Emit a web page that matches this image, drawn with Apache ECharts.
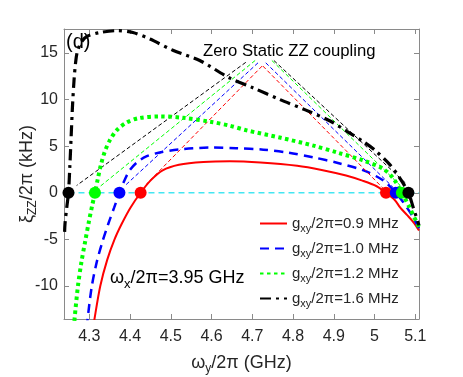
<!DOCTYPE html>
<html>
<head>
<meta charset="utf-8">
<script src="https://cdn.jsdelivr.net/npm/echarts@6/dist/echarts.min.js"></script>
<style>
  html, body { margin: 0; padding: 0; background: #fff; }
  #chart { width: 463px; height: 377px; }
</style>
</head>
<body>
<div id="chart"></div>
<script>
// g_xy values (MHz) and colours, order: red, blue, green, black
const gValues = ['0.9', '1.0', '1.2', '1.6'];

// curves
const redX   = [4.310, 4.313, 4.327, 4.344, 4.362, 4.380, 4.401, 4.426, 4.450, 4.480, 4.520, 4.580, 4.645, 4.720, 4.810, 4.870, 4.930, 4.970, 5.005, 5.028, 5.050, 5.063, 5.080, 5.096, 5.109];
const redY   = [-14.5, -13.5, -10.0, -7.2, -5.0, -3.3, -1.6, 0, 1.3, 2.4, 3.0, 3.3, 3.38, 3.25, 2.9, 2.45, 1.85, 1.3, 0.7, 0, -0.8, -1.6, -2.4, -3.2, -4.05];

const blueX  = [4.294, 4.296, 4.306, 4.318, 4.332, 4.347, 4.361, 4.374, 4.386, 4.399, 4.418, 4.440, 4.470, 4.520, 4.600, 4.660, 4.727, 4.790, 4.850, 4.910, 4.973, 5.022, 5.052, 5.070, 5.090, 5.109];
const blueY  = [-14.5, -13.5, -10.1, -7.5, -5.3, -3.3, -1.6, 0, 1.3, 2.4, 3.3, 3.9, 4.3, 4.65, 4.85, 4.78, 4.63, 4.3, 3.8, 3.2, 2.4, 1.3, 0, -1.0, -2.3, -3.8];

const greenX = [4.2625, 4.2640, 4.2720, 4.2805, 4.2905, 4.2995, 4.3070, 4.3140, 4.3210, 4.3285, 4.3380, 4.3500, 4.3670, 4.3900, 4.4200, 4.4730, 4.5300, 4.6000, 4.6450, 4.6860, 4.7700, 4.8500, 4.9100, 4.9730, 5.0200, 5.0450, 5.0670, 5.0850, 5.1090];
const greenY = [-14.5, -13.5, -10.1, -7.5, -5.1, -3.0, -1.4, 0, 1.5, 3.0, 4.4, 5.6, 6.7, 7.5, 8.0, 8.2, 8.05, 7.6, 7.2, 6.7, 5.9, 5.06, 4.3, 3.46, 2.6, 1.6, 0, -1.5, -3.7];

const blackX = [4.2395, 4.2405, 4.2450, 4.2490, 4.2525, 4.2555, 4.2585, 4.2625, 4.2665, 4.2710, 4.2810, 4.2950, 4.3260, 4.3670, 4.4070, 4.4490, 4.5050, 4.5710, 4.6450, 4.7000, 4.7680, 4.8300, 4.8910, 4.9320, 4.9720, 5.0000, 5.0380, 5.0600, 5.0830, 5.0950, 5.1090];
const blackY = [-4.2, -3.3, -1.5, 0, 3.0, 6.0, 9.0, 12.0, 14.0, 15.2, 16.2, 16.8, 17.2, 17.4, 17.2, 16.5, 15.3, 14.2, 12.3, 11.3, 10.0, 8.9, 7.7, 6.6, 5.5, 4.6, 3.0, 1.7, 0, -1.6, -3.5];

// zero-ZZ points (y = 0)
const leftDotX  = [4.426, 4.374, 4.314, 4.249];
const rightDotX = [5.028, 5.052, 5.067, 5.083];

// arrows: start near the text, end at the dots
const leftApex  = [[4.724, 13.6], [4.714, 13.95], [4.707, 14.2], [4.684, 14.0]];
const rightApex = [[4.726, 13.6], [4.733, 13.95], [4.748, 14.2], [4.753, 14.2]];
const leftTip   = [[4.441, 0.96], [4.388, 0.78], [4.327, 0.7], [4.269, 0.78]];
const rightTip  = [[5.022, 0.43], [5.045, 0.6], [5.063, 0.78], [5.078, 0.96]];

const xTicks = [4.3, 4.4, 4.5, 4.6, 4.7, 4.8, 4.9, 5, 5.1];
const yTicks = [-10, -5, 0, 5, 10, 15];

const colors = ['#ff0000', '#0000ff', '#00ff00', '#000000'];
const widths = [2, 2.5, 4, 3.2];
const dashes = ['solid', [9, 6], [3.5, 3.5], [11, 5, 3, 5]];
const curves = [[redX, redY], [blueX, blueY], [greenX, greenY], [blackX, blackY]];

const zip = (xs, ys) => xs.map((x, i) => [x, ys[i]]);

const axisGray = '#8a8a8a';
const textDark = '#262626';
const font = 'Liberation Sans, Arial, Helvetica, sans-serif';

const chart = echarts.init(document.getElementById('chart'));

const curveSeries = curves.map((c, i) => ({
  name: gValues[i],
  type: 'line',
  data: zip(c[0], c[1]),
  symbol: 'none',
  smooth: 0.3,
  color: colors[i],
  itemStyle: { opacity: 0 },
  lineStyle: { color: colors[i], width: widths[i], type: dashes[i] },
  z: 3 + i,
  silent: true,
  animation: false
}));

const arrowSeries = colors.map((col, i) => ({
  type: 'line',
  data: [],
  silent: true,
  z: 2,
  markLine: {
    silent: true,
    animation: false,
    symbol: ['none', 'arrow'],
    symbolSize: [0, 8],
    label: { show: false },
    lineStyle: { color: col, width: 1, type: [4, 2.5] },
    data: [
      [{ coord: leftApex[i] }, { coord: leftTip[i] }],
      [{ coord: rightApex[i] }, { coord: rightTip[i] }]
    ]
  }
}));

const dotSeries = colors.map((col, i) => ({
  type: 'scatter',
  data: [[leftDotX[i], 0], [rightDotX[i], 0]],
  symbolSize: 12,
  itemStyle: { color: col, opacity: 1 },
  z: 10,
  silent: true,
  animation: false
}));

const zeroLine = {
  type: 'line',
  data: [[leftDotX[3], 0], [5.109, 0]],
  symbol: 'none',
  lineStyle: { color: '#44e6f2', width: 1.5, type: [6, 4] },
  z: 1,
  silent: true,
  animation: false
};

const subRich = {
  a: { fontSize: 18, color: textDark, fontFamily: font },
  s: { fontSize: 12, color: textDark, fontFamily: font, padding: [11, 0, 0, 0] }
};

const baseX = {
  type: 'value', min: 4.238, max: 5.109,
  splitLine: { show: false },
  axisLine: { show: true, onZero: false, lineStyle: { color: axisGray, width: 1 } },
  axisTick: { show: true, inside: true, length: 5, customValues: xTicks, lineStyle: { color: axisGray } }
};
const baseY = {
  type: 'value', min: -13.55, max: 17.58,
  splitLine: { show: false },
  axisLine: { show: true, onZero: false, lineStyle: { color: axisGray, width: 1 } },
  axisTick: { show: true, inside: true, length: 5, customValues: yTicks, lineStyle: { color: axisGray } }
};

chart.setOption({
  backgroundColor: '#fff',
  animation: false,
  grid: { left: 64, right: 44, top: 29, bottom: 58, containLabel: false, outerBoundsMode: 'none' },
  xAxis: [
    Object.assign({}, baseX, {
      position: 'bottom',
      axisLabel: { customValues: xTicks, color: textDark, fontSize: 16, fontFamily: font, margin: 10 },
      name: '{a|ω}{s|y}{a|/2π (GHz)}',
      nameLocation: 'middle',
      nameGap: 33,
      nameTextStyle: { rich: subRich }
    }),
    Object.assign({}, baseX, { position: 'top', axisLabel: { show: false } })
  ],
  yAxis: [
    Object.assign({}, baseY, {
      position: 'left',
      axisLabel: { customValues: yTicks, color: textDark, fontSize: 16, fontFamily: font, margin: 6 }
    }),
    Object.assign({}, baseY, { position: 'right', axisLabel: { show: false } })
  ],
  legend: {
    data: gValues,
    orient: 'vertical',
    left: 259,
    top: 216,
    padding: 0,
    itemWidth: 27,
    itemHeight: 14,
    itemGap: 6.5,
    selectedMode: false,
    itemStyle: { opacity: 0 },
    formatter: name => '{a|g}{s|xy}{a|/2π=' + name + ' MHz}',
    textStyle: {
      rich: {
        a: { fontSize: 15, color: textDark, fontFamily: font },
        s: { fontSize: 11, color: textDark, fontFamily: font, padding: [11, 0, 0, 0] }
      }
    }
  },
  graphic: [
    {
      type: 'text', x: 27, y: 174, rotation: Math.PI / 2,
      style: {
        text: '{a|ξ}{s|ZZ}{a|/2π (kHz)}',
        align: 'center',
        verticalAlign: 'middle',
        rich: {
          a: { fontSize: 18, fill: textDark, fontFamily: font },
          s: { fontSize: 12, fill: textDark, fontFamily: font, padding: [11, 0, 0, 0] }
        }
      }
    },
    {
      type: 'text', left: 66, top: 32,
      style: { text: '(d)', fill: '#000', font: '20px ' + font }
    },
    {
      type: 'text', left: 203, top: 43,
      style: { text: 'Zero Static ZZ coupling', fill: '#000', font: '16.7px ' + font }
    },
    {
      type: 'text', left: 110, top: 269,
      style: {
        text: '{a|ω}{s|x}{a|/2π=3.95 GHz}',
        rich: {
          a: { fontSize: 18, fill: '#000', fontFamily: font },
          s: { fontSize: 13, fill: '#000', fontFamily: font, padding: [12, 0, 0, 0] }
        }
      }
    }
  ],
  series: [zeroLine].concat(arrowSeries, curveSeries, dotSeries)
});
</script>
</body>
</html>
